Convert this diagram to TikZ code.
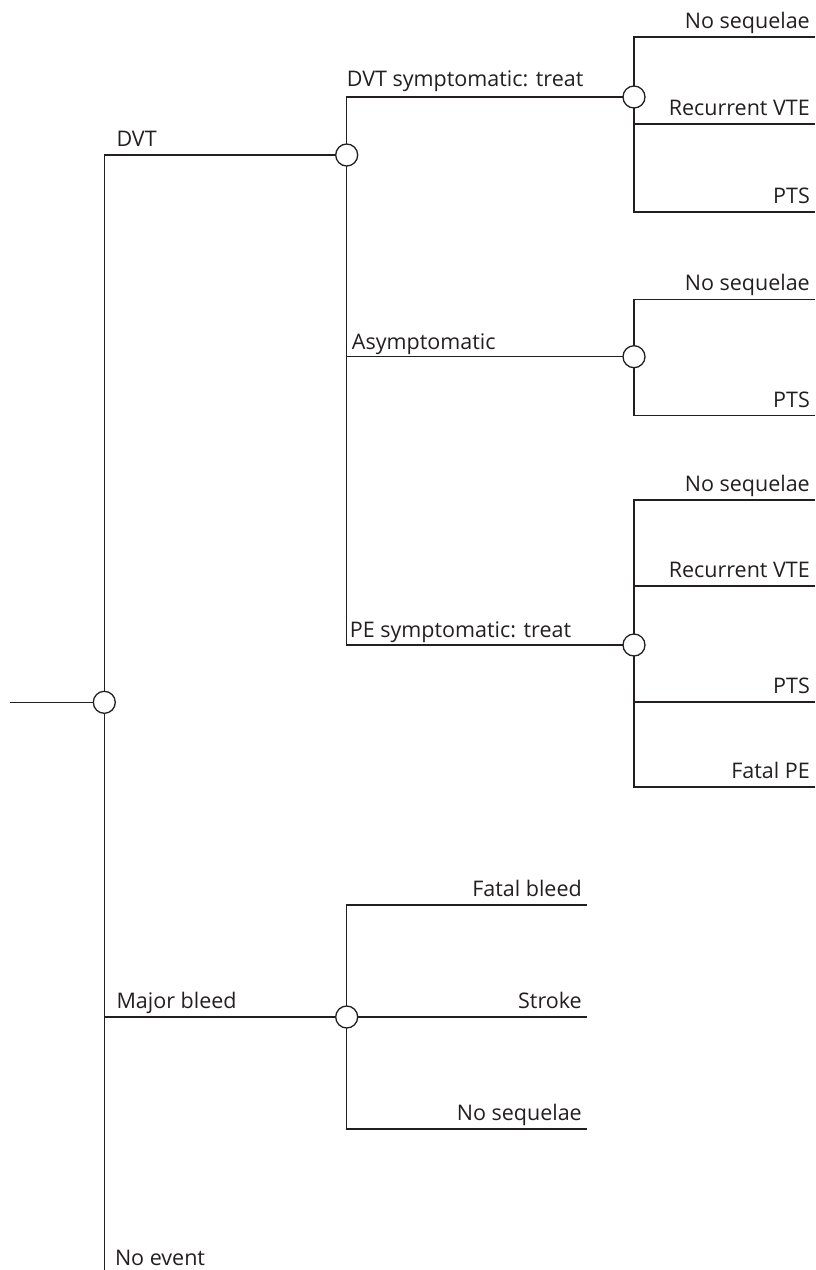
\documentclass[tikz,border=0pt]{standalone}
\usepackage{fontspec}
\setmainfont{Open Sans}
\definecolor{ink}{HTML}{231F20}
\begin{document}
\begin{tikzpicture}[x=1pt,y=-1pt,
  edge/.style={draw=ink, line width=1.3pt},
  chance/.style={circle, draw=ink, fill=white, line width=1.3pt,
                 minimum size=22pt, inner sep=0pt},
  branchlbl/.style={anchor=base west, text=ink, inner sep=0pt,
                    font=\fontsize{21.5}{25}\selectfont},
  leaflbl/.style={anchor=base east, text=ink, inner sep=0pt,
                  font=\fontsize{21.5}{25}\selectfont}]
\useasboundingbox (0,0) rectangle (816,1270);

% chance points
\coordinate (c0) at (104.3,702.3);
\coordinate (cD) at (346.7,155);
\coordinate (cS) at (634,97);
\coordinate (cA) at (634,356.7);
\coordinate (cP) at (634,645);
\coordinate (cB) at (346.7,1017);
\coordinate (start) at (10,702.3);
\coordinate (bottom) at (104.3,1270);

% terminal ends
\coordinate (s1) at (815,37);
\coordinate (s2) at (815,124);
\coordinate (s3) at (815,212);
\coordinate (a1) at (815,299.3);
\coordinate (a2) at (815,415.7);
\coordinate (p1) at (815,500);
\coordinate (p2) at (815,586);
\coordinate (p3) at (815,702);
\coordinate (p4) at (815,787);
\coordinate (b1) at (587,905);
\coordinate (b2) at (587,1017);
\coordinate (b3) at (587,1129);

% branches
\draw[edge] (start) -- (c0);
\draw[edge] (c0) |- (cD);
\draw[edge] (c0) |- (cB);
\draw[edge] (c0) -- (bottom);
\draw[edge] (cD) |- (cS);
\draw[edge] (cD) |- (cA);
\draw[edge] (cD) |- (cP);
\foreach \t in {s1,s2,s3} \draw[edge] (cS) |- (\t);
\foreach \t in {a1,a2} \draw[edge] (cA) |- (\t);
\foreach \t in {p1,p2,p3,p4} \draw[edge] (cP) |- (\t);
\foreach \t in {b1,b2,b3} \draw[edge] (cB) |- (\t);

% chance nodes
\foreach \c in {c0,cD,cS,cA,cP,cB} \node[chance] (n\c) at (\c) {};

% branch labels
\path (c0 |- cD) ++(12,-8.3) node[branchlbl] (lD) {DVT};
\path (c0 |- cB) ++(12,-8.5) node[branchlbl] (lB) {Major bleed};
\path (bottom) ++(10.5,-5) node[branchlbl] (lN) {No event};
\path (cD |- cS) ++(0,-10.3) node[branchlbl] (lS) {DVT symptomatic: treat};
\path (cD |- cA) ++(5,-7.5) node[branchlbl] (lA) {Asymptomatic};
\path (cD |- cP) ++(3,-7.7) node[branchlbl] (lP) {PE symptomatic: treat};

% outcome labels
\foreach \t/\txt in {s1/No sequelae, s2/Recurrent VTE, s3/PTS,
                     a1/No sequelae, a2/PTS,
                     p1/No sequelae, p2/Recurrent VTE, p3/PTS, p4/Fatal PE,
                     b1/Fatal bleed, b2/Stroke, b3/No sequelae}
  \path (\t) ++(-5,-8.5) node[leaflbl] (l\t) {\txt};
\end{tikzpicture}
\end{document}
